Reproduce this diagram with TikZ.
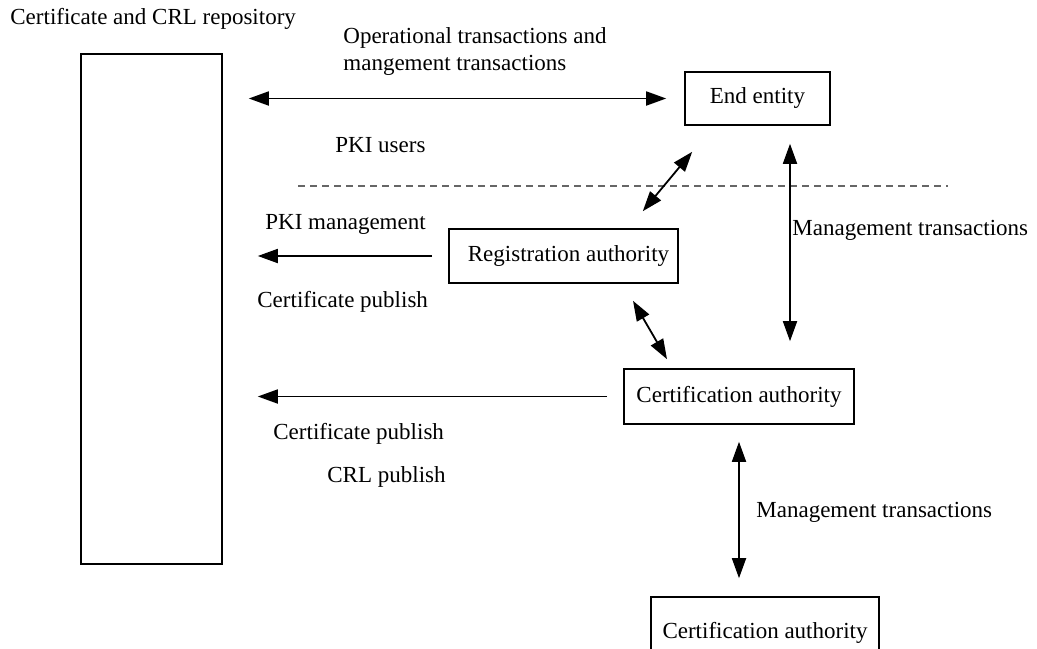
\documentclass[tikz,border=0pt]{standalone}
\usepackage{fontspec}
\setmainfont{Liberation Serif}
\usetikzlibrary{arrows.meta,calc}
\begin{document}
\begin{tikzpicture}[x=0.5pt, y=-0.5pt,
		font=\fontsize{11.5}{13.5}\selectfont,
		box/.style={draw, line width=0.8pt, inner sep=0pt},
		lbl/.style={anchor=west, inner sep=0pt, align=left},
		flow/.style={line width=0.9pt, -{Triangle[length=10pt,width=7pt]}},
		dflow/.style={line width=0.9pt, {Triangle[length=10pt,width=7pt]}-{Triangle[length=10pt,width=7pt]}}]
		\useasboundingbox (0,0) rectangle (1037,648);
		\clip (0,0) rectangle (1037,648);

		% Repositorio
		\node[lbl] (repotitle) at (10,19) {Certificate and CRL repository};
		\node[box, minimum width=70.5pt, minimum height=255pt] (repo) at (151.5,309) {};

		% Cajas
		\node[box, minimum width=72.5pt, minimum height=26.5pt] (ee) at (757.5,98.5) {End entity};
		\node[box, minimum width=114.5pt, minimum height=27pt] (ra) at (563.5,256) {\hspace{5pt}Registration authority};
		\node[box, minimum width=115pt, minimum height=27.5pt] (ca) at (739,396.5) {Certification authority};
		\node[box, minimum width=114pt, minimum height=36pt] (ca2) at (765,633) {Certification authority};

		% Linea de separacion
		\draw[black!60, line width=0.7pt, dash pattern=on 3.5pt off 2.5pt] (298,186) -- (948,186);

		% Etiquetas
		\node[lbl] (optr) at (343,52) {Operational transactions and\\mangement transactions};
		\node[lbl] (users) at (335,145) {PKI users};
		\node[lbl] (pkimgmt) at (265,224) {PKI management};
		\node[lbl] (pub1) at (257,302) {Certificate publish};
		\node[lbl] (pub2) at (273,434) {Certificate publish};
		\node[lbl] (crlpub) at (327,477) {CRL publish};
		\node[lbl] (mgmt1) at (792,230) {Management transactions};
		\node[lbl] (mgmt2) at (756,512) {Management transactions};

		% Flechas
		\coordinate (eeS) at ($(ee.south)+(32.5,0)$);
		\draw[dflow, shorten <=13pt, shorten >=9pt] (repo.east |- ee.west) -- (ee.west);
		\draw[dflow] ($(ra.north east)+(-36,-17)$) -- ($(ee.south west)+(8,26)$);
		\draw[dflow, shorten <=9pt, shorten >=13.5pt] (eeS) -- (eeS |- ca.north);
		\draw[flow, shorten <=8pt, shorten >=17.5pt] (ra.west) -- (repo.east |- ra.west);
		\draw[dflow] ($(ra.south)+(69.5,17)$) -- ($(ca.north)+(-72,-9)$);
		\draw[flow, shorten <=8pt, shorten >=17.5pt] (ca.west) -- (repo.east |- ca.west);
		\draw[dflow, shorten <=8.5pt, shorten >=9pt] (ca.south) -- (ca.south |- ca2.north);
	\end{tikzpicture}
\end{document}
